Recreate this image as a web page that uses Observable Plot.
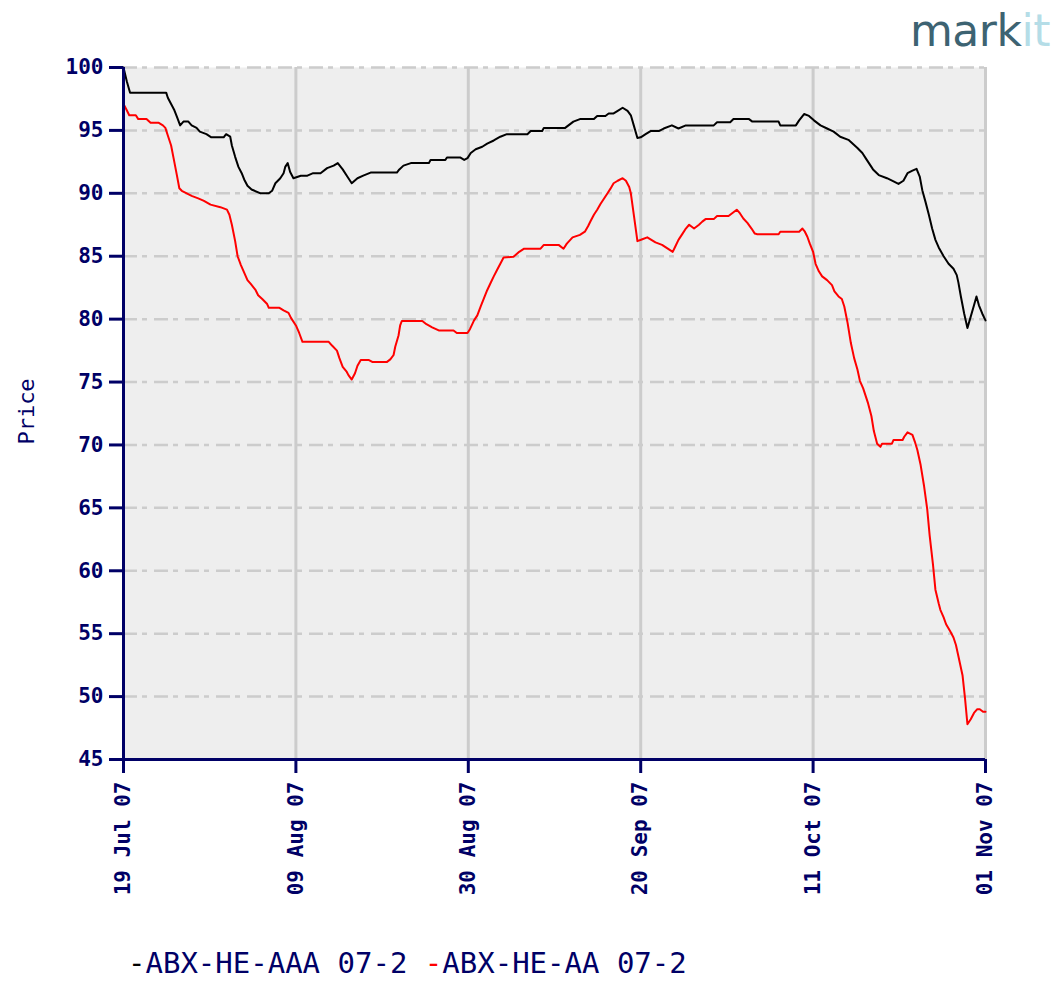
<!DOCTYPE html>
<html>
<head>
<meta charset="utf-8">
<script src="https://cdn.jsdelivr.net/npm/d3@7"></script>
<script src="https://cdn.jsdelivr.net/npm/@observablehq/plot@0.6"></script>
<style>
  body { margin: 0; background: #fff; }
  #wrap { position: relative; width: 1063px; height: 983px; overflow: hidden; background: #fff; }
  #chart { position: absolute; left: 0; top: 0; z-index: 1; }
  #logo { position: absolute; left: 910px; top: 5px; z-index: 2; font-family: "DejaVu Sans"; font-size: 44px; line-height: normal; letter-spacing: -0.5px; white-space: pre; }
  #legend { position: absolute; left: 128px; top: 949px; z-index: 2; font-family: "DejaVu Sans Mono"; font-size: 29px; line-height: 29px; color: #000066; white-space: pre; }
</style>
</head>
<body>
<div id="wrap">
  <div id="chart"></div>
  <div id="logo"><span style="color:#3d6372">mark</span><span style="color:#b5dde7">it</span></div>
  <div id="legend"></div>
</div>
<script>
// ---- data: [days since 19 Jul 07, price] ----
const seriesNames = ["ABX-HE-AAA 07-2", "ABX-HE-AA 07-2"];
const seriesColors = ["#000000", "#ff0000"];

const aaaSeries = [
  [0,100.0],[0.4,98.9],[0.8,98.0],[5.2,98.0],[5.4,97.6],[5.8,97.1],[6.2,96.6],[6.5,96.1],[6.9,95.4],
  [7.3,95.7],[7.9,95.7],[8.3,95.4],[8.9,95.2],[9.3,94.9],[10.1,94.7],[10.7,94.45],[12.2,94.45],
  [12.5,94.7],[13.0,94.5],[13.2,93.8],[13.6,92.9],[14.0,92.1],[14.4,91.6],[14.7,91.1],[15.1,90.6],
  [15.6,90.3],[16.7,90.0],[17.7,90.0],[18.1,90.2],[18.5,90.8],[19.1,91.2],[19.5,91.6],[19.7,92.1],
  [20.0,92.4],[20.3,91.7],[20.7,91.2],[21.6,91.4],[22.4,91.4],[23.1,91.6],[24.0,91.6],[24.8,92.0],
  [25.6,92.2],[26.1,92.4],[26.7,91.9],[27.3,91.3],[27.8,90.8],[28.5,91.2],[29.2,91.4],[30.1,91.65],
  [33.3,91.65],[33.6,91.9],[34.1,92.2],[35.0,92.4],[37.2,92.4],[37.4,92.65],[39.2,92.65],[39.4,92.85],
  [41.0,92.85],[41.5,92.65],[41.9,92.8],[42.3,93.2],[42.9,93.5],[43.7,93.7],[44.3,93.95],[45.1,94.2],
  [45.9,94.5],[46.7,94.7],[49.2,94.7],[49.6,94.95],[51.0,94.95],[51.2,95.2],[53.8,95.2],[54.2,95.4],
  [54.8,95.7],[55.6,95.9],[57.3,95.9],[57.7,96.15],[58.7,96.15],[59.1,96.35],[59.7,96.35],[60.2,96.55],
  [60.8,96.8],[61.4,96.55],[61.8,96.2],[62.2,95.3],[62.6,94.4],[63.0,94.45],[63.6,94.7],[64.2,94.95],
  [65.2,94.95],[65.8,95.15],[66.8,95.4],[67.6,95.15],[68.5,95.4],[71.9,95.4],[72.3,95.65],[73.9,95.65],
  [74.3,95.9],[76.2,95.9],[76.6,95.7],[79.8,95.7],[80.0,95.4],[81.9,95.4],[82.3,95.8],[82.9,96.3],
  [83.5,96.15],[84.1,95.8],[84.9,95.4],[85.7,95.15],[86.5,94.9],[87.3,94.5],[88.3,94.25],[88.9,93.9],
  [89.4,93.6],[90.0,93.2],[90.4,92.8],[90.8,92.4],[91.3,91.9],[92.0,91.45],[93.0,91.2],[93.8,90.95],
  [94.4,90.75],[95.0,91.0],[95.5,91.6],[96.1,91.8],[96.6,91.95],[97.0,91.3],[97.3,90.25],[97.7,89.3],
  [98.1,88.3],[98.5,87.2],[98.9,86.3],[99.3,85.7],[99.9,85.0],[100.5,84.4],[101.1,84.0],[101.5,83.5],
  [101.7,82.9],[102.0,81.8],[102.4,80.45],[102.8,79.3],[103.2,80.2],[103.6,81.1],[103.9,81.8],
  [104.2,81.1],[104.6,80.45],[105.0,79.9]
];

const aaSeries = [
  [0,97.1],[0.4,96.6],[0.7,96.2],[1.5,96.2],[1.8,95.9],[2.8,95.9],[3.3,95.6],[4.3,95.6],[4.8,95.4],
  [5.1,95.2],[5.4,94.6],[5.8,93.8],[6.1,92.8],[6.5,91.45],[6.8,90.4],[7.1,90.2],[7.7,90.0],[8.3,89.8],
  [9.1,89.6],[9.8,89.4],[10.6,89.1],[11.8,88.9],[12.6,88.7],[12.9,88.3],[13.2,87.5],[13.6,86.2],
  [13.9,85.0],[14.3,84.3],[14.7,83.7],[15.1,83.1],[15.5,82.8],[16.1,82.3],[16.4,81.9],[16.9,81.6],
  [17.5,81.2],[17.7,80.9],[19.0,80.9],[19.5,80.7],[20.1,80.5],[20.4,80.1],[21.0,79.5],[21.4,78.9],
  [21.8,78.2],[25.0,78.2],[25.4,77.9],[26.0,77.5],[26.3,76.9],[26.7,76.2],[27.2,75.8],[27.4,75.55],
  [27.8,75.2],[28.2,75.7],[28.5,76.3],[28.9,76.75],[29.9,76.75],[30.3,76.6],[32.1,76.6],[32.5,76.8],
  [32.9,77.15],[33.1,77.8],[33.5,78.7],[33.7,79.5],[33.9,79.85],[36.4,79.85],[36.9,79.6],[37.6,79.35],
  [38.4,79.1],[40.2,79.1],[40.6,78.9],[41.9,78.9],[42.2,79.2],[42.7,79.9],[43.1,80.3],[43.5,81.0],
  [43.9,81.65],[44.3,82.3],[44.7,82.85],[45.1,83.4],[45.5,83.9],[45.9,84.4],[46.3,84.9],[47.5,84.95],
  [48.2,85.35],[48.8,85.6],[50.8,85.6],[51.2,85.9],[53.0,85.9],[53.6,85.6],[54.0,86.0],[54.7,86.5],
  [55.6,86.7],[56.2,86.95],[56.6,87.4],[56.9,87.8],[57.3,88.3],[57.7,88.7],[58.1,89.15],[58.5,89.55],
  [58.9,89.95],[59.3,90.35],[59.7,90.8],[60.2,91.0],[60.8,91.2],[61.2,91.0],[61.6,90.5],[61.8,90.0],
  [62.2,88.1],[62.6,86.2],[63.2,86.35],[63.8,86.5],[64.3,86.3],[64.8,86.1],[65.6,85.9],[66.3,85.6],
  [66.9,85.35],[67.2,85.75],[67.6,86.3],[68.1,86.8],[68.5,87.2],[68.9,87.5],[69.5,87.2],[70.1,87.5],
  [70.5,87.75],[70.9,87.95],[71.9,87.95],[72.3,88.2],[73.7,88.2],[74.1,88.4],[74.7,88.7],[75.1,88.4],
  [75.5,88.0],[76.0,87.65],[76.5,87.2],[76.9,86.8],[77.2,86.75],[79.8,86.75],[80.0,86.95],[82.3,86.95],
  [82.7,87.2],[83.0,86.95],[83.3,86.55],[83.6,86.0],[84.0,85.35],[84.3,84.4],[84.7,83.8],[85.1,83.4],
  [85.7,83.1],[86.3,82.7],[86.6,82.2],[87.1,81.8],[87.5,81.6],[87.8,81.0],[88.2,79.7],[88.6,78.1],
  [89.0,76.9],[89.4,76.0],[89.7,75.1],[90.1,74.5],[90.4,73.9],[90.7,73.3],[91.1,72.3],[91.4,71.1],
  [91.8,70.1],[92.2,69.85],[92.4,70.1],[93.6,70.1],[93.8,70.4],[94.9,70.4],[95.1,70.65],[95.5,71.0],
  [96.1,70.8],[96.4,70.25],[96.7,69.6],[97.1,68.4],[97.5,66.8],[97.9,64.9],[98.2,62.8],[98.6,60.5],
  [98.9,58.5],[99.3,57.4],[99.5,56.9],[99.9,56.3],[100.2,55.75],[100.7,55.2],[101.1,54.7],[101.4,54.1],
  [101.7,53.2],[102.2,51.7],[102.5,49.9],[102.8,47.8],[103.2,48.2],[103.6,48.7],[104.0,49.0],
  [104.3,49.0],[104.7,48.8],[105.0,48.8]
];

const yTicks = [45, 50, 55, 60, 65, 70, 75, 80, 85, 90, 95, 100];
const xTickDays = [0, 21, 42, 63, 84, 105];
const xTickLabels = ["19 Jul 07", "09 Aug 07", "30 Aug 07", "20 Sep 07", "11 Oct 07", "01 Nov 07"];
const yLabel = "Price";

// ---- build ----
const start = Date.UTC(2007, 6, 19);
const toDate = d => new Date(start + d * 864e5);
const rows = (s, name) => s.map(([d, v]) => ({date: toDate(d), price: v, series: name}));
const aaaRows = rows(aaaSeries, seriesNames[0]);
const aaRows = rows(aaSeries, seriesNames[1]);
const xTickDates = xTickDays.map(toDate);
const navy = "#000066";

const chart = Plot.plot({
  width: 1063,
  height: 940,
  marginLeft: 123,
  marginRight: 78,
  marginTop: 67,
  marginBottom: 181,
  style: {fontFamily: "DejaVu Sans Mono", fontSize: "21px", background: "transparent"},
  x: {type: "utc", domain: [toDate(0), toDate(105)]},
  y: {domain: [45, 100]},
  marks: [
    Plot.frame({fill: "#eeeeee", stroke: null}),
    Plot.gridX(xTickDates, {stroke: "#cccccc", strokeOpacity: 1, strokeWidth: 3}),
    Plot.gridY(yTicks, {stroke: "#cccccc", strokeOpacity: 1, strokeWidth: 2.5, strokeDasharray: "14,5,5,7"}),
    Plot.line(aaaRows, {x: "date", y: "price", stroke: seriesColors[0], strokeWidth: 2}),
    Plot.line(aaRows, {x: "date", y: "price", stroke: seriesColors[1], strokeWidth: 2}),
    Plot.axisY(yTicks, {
      tickSize: 14, tickPadding: 6, stroke: navy, strokeWidth: 3, strokeOpacity: 1,
      fill: navy, fontWeight: "bold", label: null
    }),
    Plot.axisX(xTickDates, {
      tickSize: 14, tickPadding: 8, tickRotate: -90, stroke: navy, strokeWidth: 3, strokeOpacity: 1,
      fill: navy, fontWeight: "bold", label: null,
      tickFormat: d => xTickLabels[xTickDays.indexOf(Math.round((d - start) / 864e5))]
    }),
    Plot.ruleX([toDate(0)], {stroke: navy, strokeWidth: 3}),
    Plot.ruleY([45], {stroke: navy, strokeWidth: 3}),
    Plot.text([yLabel], {
      frameAnchor: "left", dx: -90, dy: -2, rotate: -90, textAnchor: "middle", lineAnchor: "bottom",
      fill: navy, fontSize: 22, fontFamily: "DejaVu Sans Mono"
    })
  ]
});
document.getElementById("chart").appendChild(chart);

// legend
const legend = document.getElementById("legend");
seriesNames.forEach((name, i) => {
  const dash = document.createElement("span");
  dash.style.color = seriesColors[i];
  dash.textContent = "-";
  const label = document.createElement("span");
  label.textContent = name + (i < seriesNames.length - 1 ? " " : "");
  legend.appendChild(dash);
  legend.appendChild(label);
});
</script>
</body>
</html>
